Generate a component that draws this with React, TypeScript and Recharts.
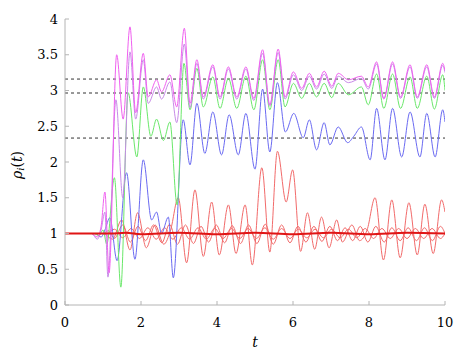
import React from 'react';
import { LineChart, Line, XAxis, YAxis, ReferenceLine, Label } from 'recharts';

type P = [number, number];

const xTicks = [0, 2, 4, 6, 8, 10];
const yTicks = [0, 0.5, 1, 1.5, 2, 2.5, 3, 3.5, 4];
const refLevels = [3.16, 2.965, 2.335];

const magenta: P[] = [[0,1],[0.7,1],[0.85,0.95],[0.95,1.1],[1.05,1.58],[1.16,0.45],[1.36,3.5],[1.53,2.6],[1.71,3.89],[1.86,2.69],[2.06,3.52],[2.19,2.91],[2.41,3.15],[2.54,2.98],[2.76,3.22],[2.94,2.77],[3.14,3.87],[3.29,2.82],[3.47,3.43],[3.64,2.91],[3.89,3.36],[4.08,2.91],[4.30,3.33],[4.52,2.91],[4.76,3.33],[4.97,2.89],[5.20,3.57],[5.39,2.80],[5.61,3.58],[5.79,2.91],[6.01,3.26],[6.23,3.03],[6.43,3.24],[6.62,3.05],[6.82,3.27],[7.02,3.06],[7.19,3.24],[7.46,3.15],[7.8,3.2],[7.98,3.05],[8.2,3.4],[8.39,2.89],[8.62,3.4],[8.83,2.91],[9.08,3.36],[9.27,2.91],[9.52,3.36],[9.72,2.91],[9.94,3.38],[10,3.28]];

const violet: P[] = [[0,1],[0.7,1],[0.85,0.92],[0.95,1.05],[1.05,1.3],[1.13,0.39],[1.34,2.87],[1.52,1.5],[1.71,3.54],[1.86,2.6],[2.06,3.43],[2.19,2.82],[2.41,3.05],[2.54,2.88],[2.76,3.12],[2.94,2.55],[3.14,3.65],[3.29,2.76],[3.47,3.38],[3.64,2.88],[3.89,3.33],[4.08,2.88],[4.30,3.3],[4.52,2.88],[4.76,3.3],[4.97,2.86],[5.20,3.52],[5.39,2.78],[5.61,3.53],[5.79,2.88],[6.01,3.22],[6.23,3.0],[6.43,3.2],[6.62,3.02],[6.82,3.23],[7.02,3.03],[7.19,3.2],[7.46,3.11],[7.8,3.17],[7.98,3.02],[8.2,3.37],[8.39,2.88],[8.62,3.37],[8.83,2.89],[9.08,3.33],[9.27,2.89],[9.52,3.33],[9.72,2.89],[9.94,3.35],[10,3.25]];

const green: P[] = [[0,1],[0.75,1],[0.9,0.97],[1.0,1.05],[1.1,0.85],[1.3,1.78],[1.47,0.25],[1.66,2.97],[1.89,2.07],[2.06,3.05],[2.26,2.36],[2.41,2.6],[2.59,2.3],[2.76,2.56],[2.95,1.4],[3.13,3.38],[3.29,2.73],[3.47,3.31],[3.64,2.77],[3.89,3.19],[4.08,2.75],[4.30,3.17],[4.52,2.75],[4.76,3.2],[4.97,2.73],[5.20,3.43],[5.39,2.73],[5.61,3.43],[5.79,2.77],[6.01,3.1],[6.23,2.89],[6.43,3.1],[6.62,2.91],[6.82,3.1],[7.02,2.9],[7.19,3.1],[7.46,2.94],[7.8,3.05],[7.98,2.8],[8.2,3.23],[8.39,2.75],[8.62,3.23],[8.83,2.75],[9.08,3.19],[9.27,2.75],[9.52,3.2],[9.72,2.74],[9.94,3.22],[10,3.0]];

const blue: P[] = [[0,1],[0.8,1],[0.95,0.95],[1.05,1.05],[1.18,1.22],[1.37,0.62],[1.62,1.85],[1.84,0.64],[2.06,2.03],[2.28,1.19],[2.41,1.30],[2.54,1.0],[2.72,1.23],[2.85,0.38],[3.11,2.59],[3.29,1.96],[3.47,2.82],[3.68,2.12],[3.89,2.70],[4.12,2.10],[4.32,2.66],[4.56,2.10],[4.76,2.68],[5.0,1.90],[5.2,3.02],[5.39,2.14],[5.59,3.11],[5.8,2.42],[6.02,2.68],[6.27,2.34],[6.43,2.59],[6.62,2.17],[6.82,2.55],[6.97,2.24],[7.19,2.49],[7.44,2.27],[7.6,2.36],[7.8,2.49],[8.03,2.03],[8.2,2.75],[8.42,2.03],[8.62,2.75],[8.86,2.07],[9.08,2.7],[9.34,2.07],[9.52,2.68],[9.74,2.07],[9.94,2.73],[10,2.56]];

const redA: P[] = [[0,1],[1.0,1],[1.25,0.92],[1.49,1.19],[1.71,0.77],[1.91,1.29],[2.14,0.8],[2.37,1.12],[2.6,0.85],[2.78,1.05],[2.98,1.5],[3.2,0.59],[3.42,1.61],[3.64,0.68],[3.86,1.44],[4.06,0.7],[4.3,1.4],[4.5,0.72],[4.74,1.4],[4.93,0.56],[5.18,1.92],[5.39,0.74],[5.59,2.15],[5.82,1.44],[5.99,1.89],[6.2,0.75],[6.38,1.29],[6.57,0.78],[6.75,1.23],[6.95,0.8],[7.15,1.19],[7.3,0.88],[7.55,1.12],[7.75,0.9],[7.95,1.05],[8.16,1.5],[8.38,0.63],[8.6,1.47],[8.82,0.66],[9.05,1.43],[9.27,0.7],[9.47,1.41],[9.69,0.72],[9.91,1.47],[10,1.3]];

const redB: P[] = [[0,1],[1.0,1],[1.15,1.04],[1.3,0.93],[1.52,1.12],[1.72,0.88],[1.92,1.1],[2.12,0.9],[2.33,1.12],[2.55,0.87],[2.75,1.13],[2.96,0.85],[3.17,1.12],[3.38,0.86],[3.58,1.1],[3.78,0.88],[3.98,1.12],[4.2,0.87],[4.4,1.11],[4.62,0.86],[4.83,1.12],[5.05,0.86],[5.27,1.13],[5.48,0.85],[5.7,1.12],[5.92,0.87],[6.13,1.1],[6.34,0.88],[6.55,1.1],[6.76,0.89],[6.97,1.1],[7.17,0.9],[7.37,1.08],[7.57,0.9],[7.77,1.1],[7.97,0.88],[8.18,1.1],[8.4,0.88],[8.6,1.08],[8.82,0.9],[9.03,1.08],[9.25,0.9],[9.46,1.08],[9.67,0.9],[9.88,1.1],[10,1.0]];

const redC: P[] = [[0,1],[1.1,1],[1.3,1.06],[1.52,0.94],[1.74,1.07],[1.96,0.93],[2.18,1.08],[2.4,0.92],[2.62,1.08],[2.84,0.92],[3.06,1.08],[3.28,0.92],[3.5,1.08],[3.72,0.92],[3.94,1.07],[4.16,0.93],[4.38,1.07],[4.6,0.93],[4.82,1.07],[5.04,0.93],[5.26,1.08],[5.48,0.92],[5.7,1.07],[5.92,0.93],[6.14,1.06],[6.36,0.94],[6.58,1.06],[6.8,0.94],[7.02,1.06],[7.24,0.94],[7.46,1.06],[7.68,0.94],[7.9,1.07],[8.12,0.93],[8.34,1.07],[8.56,0.93],[8.78,1.07],[9.0,0.93],[9.22,1.07],[9.44,0.93],[9.66,1.07],[9.88,0.93],[10,1.0]];

const redThick: P[] = [[0,1],[1.2,1],[1.6,1.01],[2.0,0.99],[3.0,1.01],[4.0,0.99],[5,1.01],[6,0.99],[7,1.01],[8,0.99],[9,1.01],[10,1]];

const toRows = (s: P[]) => s.map(([t, v]) => ({ t, v }));

const FONT = 'DejaVu Serif';
const AXIS = '#b4b4b4';
const tickStyle = { fill: '#000', fontSize: 13, fontFamily: FONT };

const thin = [
  { key: 'redC', data: redC, color: '#f26a6a' },
  { key: 'redB', data: redB, color: '#f26a6a' },
  { key: 'redA', data: redA, color: '#f26a6a' },
  { key: 'blue', data: blue, color: '#6a6af2' },
  { key: 'green', data: green, color: '#6ae86a' },
  { key: 'violet', data: violet, color: '#c88ae8' },
  { key: 'magenta', data: magenta, color: '#f060f0' },
];

const YLabel = () => (
  <text x={18} y={165} transform="rotate(-90 18 165)" textAnchor="middle" dominantBaseline="middle"
    fontFamily={FONT} fontSize={14} fill="#000">
    <tspan fontStyle="italic">ρ</tspan>
    <tspan fontStyle="italic" fontSize={10} dy={3}>i</tspan>
    <tspan dy={-3}>(</tspan>
    <tspan fontStyle="italic">t</tspan>
    <tspan>)</tspan>
  </text>
);

const XLabel = () => (
  <text x={255} y={343} textAnchor="middle" dominantBaseline="middle" fontFamily={FONT} fontSize={14}
    fontStyle="italic" fill="#000">t</text>
);

export default function App() {
  return (
    <div style={{ position: 'absolute', left: 0, top: 0 }}>
      <LineChart width={473} height={355} margin={{ top: 19, right: 28, bottom: 0, left: 0 }}>
        <XAxis xAxisId="b" type="number" dataKey="t" domain={[0, 10]} ticks={xTicks} height={50}
          allowDataOverflow stroke={AXIS} tickSize={-4} tickMargin={17} tick={tickStyle}>
          <Label content={XLabel} />
        </XAxis>
        <XAxis xAxisId="top" orientation="top" type="number" dataKey="t" domain={[0, 10]} ticks={xTicks}
          height={0} axisLine={false} tick={false} tickSize={-4} stroke={AXIS} />
        <YAxis yAxisId="l" type="number" domain={[0, 4]} ticks={yTicks} width={65} stroke={AXIS}
          tickSize={-4} tickMargin={11} allowDataOverflow tick={tickStyle}>
          <Label content={YLabel} />
        </YAxis>
        <YAxis yAxisId="r" orientation="right" type="number" domain={[0, 4]} ticks={yTicks} width={0}
          axisLine={false} tick={false} tickSize={-4} stroke={AXIS} />
        {refLevels.map((y) => (
          <ReferenceLine key={y} xAxisId="b" yAxisId="l" y={y} stroke="#333" strokeDasharray="3 3" strokeWidth={1} />
        ))}
        {thin.map((s) => (
          <Line key={s.key} xAxisId="b" yAxisId="l" data={toRows(s.data)} dataKey="v" type="monotone"
            stroke={s.color} strokeWidth={1} dot={false} isAnimationActive={false} />
        ))}
        <Line xAxisId="b" yAxisId="l" data={toRows(redThick)} dataKey="v" type="monotone"
          stroke="#e01515" strokeWidth={2} dot={false} isAnimationActive={false} />
      </LineChart>
    </div>
  );
}
